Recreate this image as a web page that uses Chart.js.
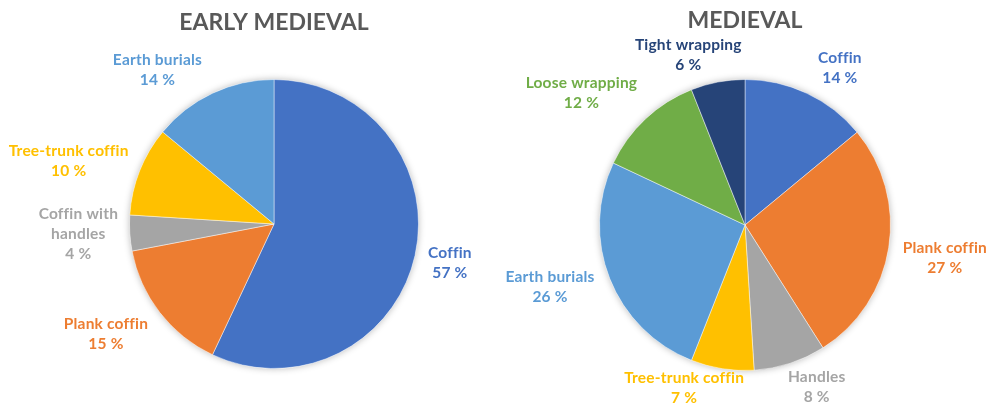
<!DOCTYPE html>
<html>
<head>
<meta charset="utf-8">
<script src="https://cdn.jsdelivr.net/npm/chart.js@4.4.1/dist/chart.umd.min.js"></script>
<style>
  body { margin: 0; background: #fff; }
  #wrap { position: relative; width: 992px; height: 406px; overflow: hidden; }
  canvas { position: absolute; top: 0; }
</style>
</head>
<body>
<div id="wrap">
  <canvas id="earlyChart" width="496" height="406" style="left:0"></canvas>
  <canvas id="medievalChart" width="496" height="406" style="left:496px"></canvas>
</div>
<script>
const earlyLabels = ['Coffin', 'Plank coffin', ['Coffin with', 'handles'], 'Tree-trunk coffin', 'Earth burials'];
const earlyValues = [57, 15, 4, 10, 14];
const earlyColors = ['#4472C4', '#ED7D31', '#A5A5A5', '#FFC000', '#5B9BD5'];

const medievalLabels = ['Coffin', 'Plank coffin', 'Handles', 'Tree-trunk coffin', 'Earth burials', 'Loose wrapping', 'Tight wrapping'];
const medievalValues = [14, 27, 8, 7, 26, 12, 6];
const medievalColors = ['#4472C4', '#ED7D31', '#A5A5A5', '#FFC000', '#5B9BD5', '#70AD47', '#264478'];

// best-fit nudges so neighbouring labels don't crowd each other
const earlyNudge = [[0, 0], [-10, -13], [0, -2], [-3, 17], [-35, 19]];
const medievalNudge = [[17, 9], [2, 2], [15, -12], [-32, -19], [-5, -13], [-21, 20], [-22, 12]];

const FONT = 'Lato, "Open Sans", sans-serif';

// soft drop shadow behind the whole pie
const pieShadow = {
  id: 'pieShadow',
  beforeDatasetsDraw(chart) {
    const arc = chart.getDatasetMeta(0).data[0];
    if (!arc) return;
    const ctx = chart.ctx;
    ctx.save();
    ctx.shadowColor = 'rgba(0,0,0,0.28)';
    ctx.shadowBlur = 7;
    ctx.fillStyle = '#fff';
    ctx.beginPath();
    ctx.arc(arc.x, arc.y, arc.outerRadius, 0, Math.PI * 2);
    ctx.fill();
    ctx.restore();
  }
};

// title above the pie
const pieTitle = {
  id: 'pieTitle',
  afterDraw(chart, args, opts) {
    const ctx = chart.ctx;
    const arc = chart.getDatasetMeta(0).data[0];
    ctx.save();
    ctx.font = 'bold 23px ' + FONT;
    ctx.fillStyle = '#595959';
    ctx.textAlign = 'center';
    ctx.textBaseline = 'middle';
    ctx.fillText(opts.text, arc.x, opts.y);
    ctx.restore();
  }
};

// name and percentage outside each slice, coloured like the slice
const outsideLabels = {
  id: 'outsideLabels',
  afterDatasetsDraw(chart, args, opts) {
    const ctx = chart.ctx;
    const ds = chart.data.datasets[0];
    const lineH = 20;
    const gap = 10;
    ctx.save();
    ctx.font = 'bold 15.5px ' + FONT;
    ctx.letterSpacing = '0.2px';
    ctx.textAlign = 'center';
    ctx.textBaseline = 'middle';
    chart.getDatasetMeta(0).data.forEach((arc, i) => {
      const name = chart.data.labels[i];
      const lines = (Array.isArray(name) ? name : [name]).concat(ds.data[i] + ' %');
      const w = Math.max(...lines.map((l) => ctx.measureText(l).width));
      const h = lines.length * lineH;
      const mid = (arc.startAngle + arc.endAngle) / 2;
      const cx = Math.cos(mid);
      const cy = Math.sin(mid);
      const dist = arc.outerRadius + gap + Math.abs(cx) * w / 2 + Math.abs(cy) * h / 2;
      const nudge = opts.nudge[i];
      const x = arc.x + cx * dist + nudge[0];
      const y = arc.y + cy * dist - h / 2 + lineH / 2 + nudge[1];
      ctx.fillStyle = ds.backgroundColor[i];
      lines.forEach((l, k) => ctx.fillText(l, x, y + k * lineH));
    });
    ctx.restore();
  }
};

function makePie(id, labels, values, colors, nudge, title, titleY, padding) {
  return new Chart(document.getElementById(id), {
    type: 'pie',
    data: {
      labels: labels,
      datasets: [{
        data: values,
        backgroundColor: colors,
        borderColor: 'rgba(255,255,255,0.45)',
        borderWidth: 1,
      }],
    },
    options: {
      responsive: false,
      animation: false,
      layout: { padding: padding },
      plugins: {
        legend: { display: false },
        tooltip: { enabled: false },
        pieTitle: { text: title, y: titleY },
        outsideLabels: { nudge: nudge },
      },
    },
    plugins: [pieShadow, outsideLabels, pieTitle],
  });
}

makePie('earlyChart', earlyLabels, earlyValues, earlyColors, earlyNudge, 'EARLY MEDIEVAL', 23,
  { left: 129, right: 77, top: 79, bottom: 37 });
makePie('medievalChart', medievalLabels, medievalValues, medievalColors, medievalNudge, 'MEDIEVAL', 21,
  { left: 103, right: 101, top: 79, bottom: 35 });
</script>
</body>
</html>
